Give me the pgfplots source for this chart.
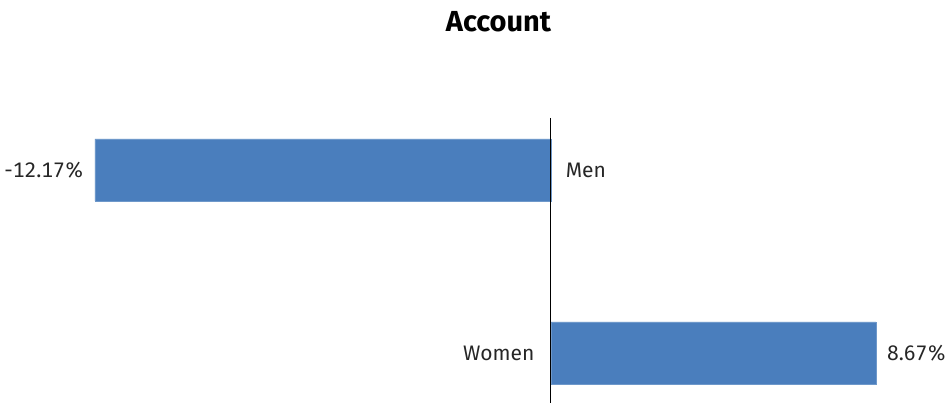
\documentclass[border=0pt]{standalone}
\usepackage{pgfplots}
\pgfplotsset{compat=1.18}
\usepackage{fontspec}
\setmainfont{Fira Sans}
\definecolor{barblue}{RGB}{74,126,189}
\begin{document}
\begin{tikzpicture}
\begin{axis}[
  scale only axis,
  width=946pt, height=403pt,
  xmin=-14.705, xmax=10.542,
  ymin=0, ymax=403, y dir=reverse,
  axis lines=none,
  xbar, bar width=62pt,
  clip=false,
  /pgf/number format/assume math mode=true,
  nodes near coords={\pgfmathprintnumber[fixed,precision=2,fixed zerofill,assume math mode=true]{\pgfplotspointmeta}\%},
  nodes near coords align={horizontal},
  every node near coord/.append style={font=\fontsize{21}{24}\selectfont\addfontfeature{Numbers=Monospaced}, inner xsep=11pt, text=black!85},
  point meta=explicit,
]
\addplot[fill=barblue, draw=barblue!80] coordinates {(-12.17,170) [-12.17] (8.67,353) [8.67]};
\draw[black, line width=1pt] (axis cs:0,118) -- (axis cs:0,403);
\node[anchor=west, font=\fontsize{21}{24}\selectfont, text=black!85] at (axis cs:0.3,170) {Men};
\node[anchor=east, font=\fontsize{21}{24}\selectfont, text=black!85] at (axis cs:-0.35,353) {Women};
\node[font=\bfseries\fontsize{29}{33}\selectfont] at (axis cs:-1.4,22) {Account};
\end{axis}
\pgfresetboundingbox
\useasboundingbox (0,0) rectangle (946pt,403pt);
\end{tikzpicture}
\end{document}
